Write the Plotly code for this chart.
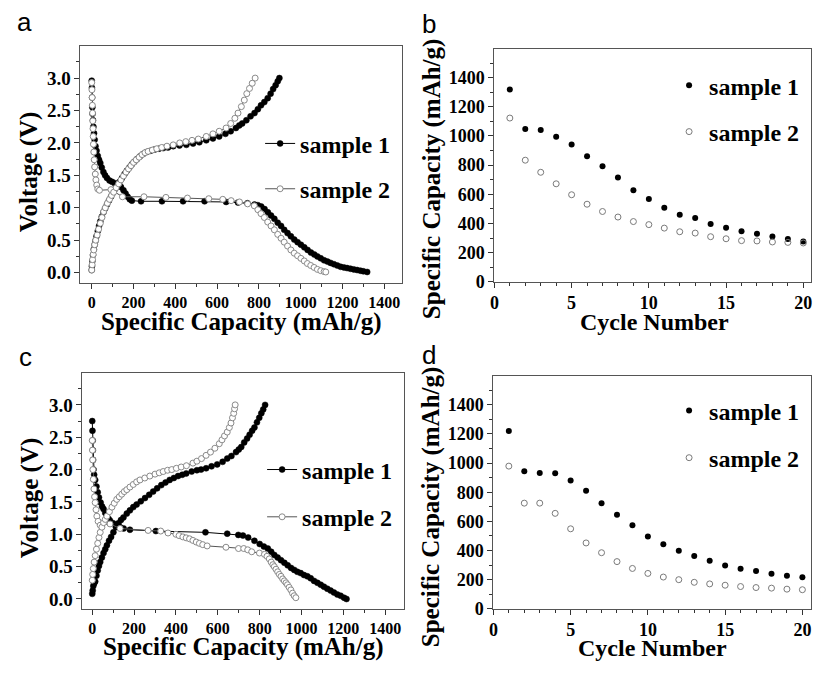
import plotly.graph_objects as go

# ---------------- data ----------------
# Panel a: voltage profiles (capacity mAh/g, voltage V)
a_s1_dis_x = [0, 1, 2, 3, 4, 6, 8, 11, 14, 18, 23, 29, 35, 41, 48, 56, 64, 73, 85, 97, 110, 125, 140, 152, 162, 172, 182, 192,
              236, 336, 437, 540, 643, 700, 745, 779, 795, 811, 827, 843, 858, 874, 890, 906, 921, 937, 953, 969, 985, 1001,
              1017, 1033, 1049, 1065, 1080, 1096, 1112, 1128, 1143, 1159, 1175, 1191, 1207, 1222, 1238, 1254, 1270, 1286, 1300, 1318]
a_s1_dis_y = [2.96, 2.85, 2.7, 2.55, 2.45, 2.35, 2.25, 2.15, 2.05, 1.95, 1.88, 1.80, 1.74, 1.69, 1.62, 1.55, 1.50, 1.46, 1.42, 1.40, 1.38, 1.35, 1.32, 1.27, 1.22, 1.17, 1.13, 1.11,
              1.10, 1.10, 1.10, 1.10, 1.09, 1.08, 1.07, 1.05, 1.04, 1.02, 0.98, 0.93, 0.88, 0.83, 0.77, 0.72, 0.66, 0.61, 0.56, 0.51, 0.47, 0.43,
              0.39, 0.35, 0.31, 0.28, 0.25, 0.22, 0.19, 0.17, 0.15, 0.13, 0.11, 0.09, 0.08, 0.07, 0.06, 0.05, 0.04, 0.03, 0.02, 0.01]
a_s1_chg_x = [0, 1, 3, 6, 10, 14, 18, 23, 29, 35, 41, 48, 56, 64, 73, 82, 92, 102, 112, 122, 133, 145, 157, 168, 180, 192, 204, 216,
              230, 246, 263, 282, 302, 322, 342, 365, 390, 420, 453, 485, 515, 548, 580, 610, 640, 665, 690, 706, 720, 740, 760,
              779, 795, 810, 826, 842, 856, 868, 880, 890, 898]
a_s1_chg_y = [0.04, 0.10, 0.18, 0.27, 0.36, 0.43, 0.49, 0.56, 0.64, 0.72, 0.79, 0.86, 0.93, 0.99, 1.05, 1.11, 1.17, 1.23, 1.29, 1.34, 1.40, 1.46, 1.52, 1.57, 1.62, 1.67, 1.71, 1.75,
              1.79, 1.83, 1.86, 1.88, 1.90, 1.91, 1.92, 1.93, 1.95, 1.96, 1.97, 1.99, 2.01, 2.04, 2.07, 2.10, 2.14, 2.18, 2.23, 2.27, 2.30, 2.35, 2.41,
              2.46, 2.52, 2.58, 2.63, 2.69, 2.76, 2.83, 2.89, 2.95, 3.0]
a_s2_dis_x = [0, 1, 2, 3, 4, 5, 6, 7, 8, 10, 12, 14, 17, 20, 24, 29, 37, 92, 147, 250, 355, 458, 560, 627, 667, 707, 746, 778,
              795, 810, 826, 842, 858, 874, 890, 906, 921, 937, 953, 969, 985, 1001, 1017, 1032, 1048, 1064, 1080, 1096, 1112, 1120]
a_s2_dis_y = [2.93, 2.82, 2.7, 2.58, 2.46, 2.34, 2.22, 2.1, 1.98, 1.86, 1.74, 1.63, 1.52, 1.43, 1.35, 1.29, 1.27, 1.28, 1.17, 1.17, 1.16, 1.15, 1.14, 1.13, 1.11, 1.09, 1.06, 1.03,
              0.97, 0.91, 0.85, 0.78, 0.72, 0.66, 0.59, 0.53, 0.47, 0.41, 0.35, 0.30, 0.26, 0.22, 0.18, 0.14, 0.11, 0.08, 0.05, 0.03, 0.015, 0.01]
a_s2_chg_x = [0, 2, 4, 7, 10, 14, 19, 26, 33, 41, 49, 57, 65, 75, 85, 95, 105, 117, 129, 140, 152, 164, 176, 188, 200, 213, 227, 241,
              255, 270, 290, 311, 335, 360, 390, 421, 450, 480, 510, 548, 580, 610, 643, 665, 685, 700, 716, 730, 742, 755, 768, 782]
a_s2_chg_y = [0.04, 0.12, 0.2, 0.28, 0.35, 0.43, 0.5, 0.58, 0.67, 0.76, 0.85, 0.94, 1.0, 1.07, 1.13, 1.19, 1.24, 1.31, 1.37, 1.43, 1.49, 1.55, 1.6, 1.65, 1.70, 1.74, 1.78, 1.82,
              1.85, 1.87, 1.89, 1.91, 1.93, 1.95, 1.97, 2.0, 2.02, 2.04, 2.06, 2.10, 2.14, 2.18, 2.23, 2.30, 2.38, 2.46, 2.56, 2.66, 2.76, 2.84, 2.92, 3.0]

# Panel c: voltage profiles
c_s1_dis_x = [0, 1, 2, 3, 4, 6, 9, 14, 20, 26, 32, 40, 47, 54, 62, 70, 78, 85, 100, 116, 133, 150, 180, 304, 541, 645, 698, 720,
              745, 775, 800, 820, 839, 855, 870, 886, 902, 918, 934, 950, 965, 980, 996, 1012, 1028, 1044, 1060, 1076, 1092,
              1107, 1123, 1139, 1155, 1171, 1187, 1203, 1215]
c_s1_dis_y = [2.75, 2.6, 2.45, 2.3, 2.15, 2.0, 1.92, 1.84, 1.74, 1.65, 1.57, 1.49, 1.43, 1.39, 1.33, 1.28, 1.24, 1.21, 1.17, 1.13, 1.11, 1.09, 1.07, 1.05, 1.03, 1.01, 0.99, 0.98,
              0.95, 0.90, 0.85, 0.81, 0.78, 0.73, 0.68, 0.64, 0.60, 0.56, 0.52, 0.48, 0.45, 0.42, 0.40, 0.37, 0.35, 0.32, 0.28, 0.25, 0.22,
              0.19, 0.16, 0.13, 0.10, 0.07, 0.05, 0.02, 0.0]
c_s1_chg_x = [0, 2, 5, 9, 14, 20, 26, 32, 38, 46, 54, 62, 70, 80, 90, 101, 113, 125, 137, 149, 165, 180, 196, 212, 232, 252, 272, 291,
              310, 330, 350, 370, 390, 410, 430, 449, 475, 500, 520, 544, 570, 597, 623, 645, 665, 687, 700, 712, 726, 740, 752,
              764, 775, 787, 798, 808, 817, 826]
c_s1_chg_y = [0.08, 0.13, 0.2, 0.24, 0.27, 0.36, 0.44, 0.51, 0.57, 0.64, 0.71, 0.77, 0.83, 0.9, 0.96, 1.03, 1.11, 1.17, 1.22, 1.26, 1.32, 1.37, 1.42, 1.46, 1.51, 1.56, 1.61, 1.66,
              1.71, 1.76, 1.80, 1.84, 1.87, 1.90, 1.92, 1.94, 1.97, 1.99, 2.0, 2.02, 2.05, 2.08, 2.12, 2.17, 2.21, 2.27, 2.31, 2.35, 2.42, 2.48, 2.54,
              2.6, 2.65, 2.73, 2.8, 2.87, 2.93, 3.0]
c_s2_dis_x = [0, 1, 2, 3, 5, 8, 11, 14, 18, 22, 28, 38, 85, 133, 267, 327, 362, 400, 415, 433, 449, 465, 481, 497, 512, 528, 549, 639,
              699, 724, 743, 762, 799, 823, 835, 846, 855, 863, 870, 878, 886, 894, 902, 910, 918, 926, 933, 941, 949, 957, 965, 973]
c_s2_dis_y = [2.45, 2.3, 2.15, 2.0, 1.85, 1.7, 1.58, 1.49, 1.38, 1.28, 1.2, 1.14, 1.16, 1.09, 1.06, 1.05, 1.02, 1.0, 0.98, 0.96, 0.945, 0.93, 0.905, 0.88, 0.86, 0.84, 0.82, 0.80,
              0.78, 0.78, 0.76, 0.73, 0.71, 0.69, 0.66, 0.62, 0.57, 0.53, 0.50, 0.46, 0.42, 0.38, 0.35, 0.31, 0.28, 0.25, 0.22, 0.18, 0.14, 0.09, 0.05, 0.02]
c_s2_chg_x = [0, 2, 5, 9, 14, 20, 26, 32, 38, 46, 54, 62, 70, 82, 94, 105, 117, 129, 141, 153, 165, 180, 196, 212, 228, 251, 275, 300,
              320, 339, 360, 380, 402, 425, 450, 481, 500, 522, 544, 565, 586, 607, 620, 632, 645, 655, 663, 670, 676, 680, 683]
c_s2_chg_y = [0.29, 0.38, 0.47, 0.57, 0.67, 0.77, 0.86, 0.95, 1.03, 1.11, 1.18, 1.23, 1.28, 1.35, 1.42, 1.48, 1.54, 1.58, 1.62, 1.66, 1.69, 1.73, 1.77, 1.81, 1.84, 1.87, 1.90, 1.93,
              1.95, 1.97, 1.99, 2.0, 2.02, 2.04, 2.06, 2.10, 2.13, 2.17, 2.22, 2.27, 2.33, 2.40, 2.46, 2.52, 2.58, 2.65, 2.72, 2.8, 2.87, 2.94, 3.0]

# Panels b, d: cycling (cycle number, capacity mAh/g)
cycles = list(range(1, 21))
b_s1 = [1319, 1048, 1041, 994, 942, 861, 793, 715, 627, 568, 507, 460, 437, 397, 370, 347, 329, 311, 293, 276]
b_s2 = [1123, 834, 751, 672, 597, 532, 482, 444, 413, 392, 368, 343, 334, 309, 295, 282, 280, 273, 270, 266]
d_s1 = [1220, 943, 932, 930, 880, 810, 725, 646, 574, 497, 443, 398, 362, 329, 297, 275, 259, 241, 227, 216]
d_s2 = [979, 725, 725, 655, 549, 452, 385, 324, 277, 243, 218, 200, 182, 171, 162, 153, 146, 142, 135, 131]

series_names = ["sample 1", "sample 2"]
panel_letters = ["a", "b", "c", "d"]
volt_title = "Voltage (V)"
cap_title = "Specific Capacity (mAh/g)"
cycle_title = "Cycle Number"

# ---------------- figure ----------------
W, H = 817, 674
SERIF = "Liberation Serif, Times New Roman, serif"

fig = go.Figure()

s1_marker = dict(symbol="circle", size=6, color="black", line=dict(color="black", width=0.5))
s2_marker = dict(symbol="circle", size=6, color="white", line=dict(color="#8a8a8a", width=1))
s1_line = dict(color="black", width=1)
s2_line = dict(color="#555555", width=1)


def curve(x, y, xa, ya, marker, line, name, legend, show):
    fig.add_trace(go.Scatter(x=x, y=y, mode="lines+markers", marker=marker, line=line,
                             name=name, legend=legend, showlegend=show, xaxis=xa, yaxis=ya,
                             hoverinfo="skip"))


# panel a (x, y)
curve(a_s1_dis_x, a_s1_dis_y, "x", "y", s1_marker, s1_line, series_names[0], "legend", True)
curve(a_s1_chg_x, a_s1_chg_y, "x", "y", s1_marker, s1_line, series_names[0], "legend", False)
curve(a_s2_dis_x, a_s2_dis_y, "x", "y", s2_marker, s2_line, series_names[1], "legend2", True)
curve(a_s2_chg_x, a_s2_chg_y, "x", "y", s2_marker, s2_line, series_names[1], "legend2", False)

# panel c (x3, y3)
curve(c_s1_dis_x, c_s1_dis_y, "x3", "y3", s1_marker, s1_line, series_names[0], "legend5", True)
curve(c_s1_chg_x, c_s1_chg_y, "x3", "y3", s1_marker, s1_line, series_names[0], "legend5", False)
curve(c_s2_dis_x, c_s2_dis_y, "x3", "y3", s2_marker, s2_line, series_names[1], "legend6", True)
curve(c_s2_chg_x, c_s2_chg_y, "x3", "y3", s2_marker, s2_line, series_names[1], "legend6", False)

# panels b, d
p1 = dict(symbol="circle", size=6, color="black")
p2 = dict(symbol="circle-open", size=6, color="#7a7a7a", line=dict(width=1))
fig.add_trace(go.Scatter(x=cycles, y=b_s1, mode="markers", marker=p1, name=series_names[0],
                         legend="legend3", xaxis="x2", yaxis="y2", hoverinfo="skip"))
fig.add_trace(go.Scatter(x=cycles, y=b_s2, mode="markers", marker=p2, name=series_names[1],
                         legend="legend4", xaxis="x2", yaxis="y2", hoverinfo="skip"))
fig.add_trace(go.Scatter(x=cycles, y=d_s1, mode="markers", marker=p1, name=series_names[0],
                         legend="legend7", xaxis="x4", yaxis="y4", hoverinfo="skip"))
fig.add_trace(go.Scatter(x=cycles, y=d_s2, mode="markers", marker=p2, name=series_names[1],
                         legend="legend8", xaxis="x4", yaxis="y4", hoverinfo="skip"))


def fx(xw):
    return xw / W


def fy(yw):
    return 1 - yw / H


def px_dom_x(l, r):
    return [fx(l), fx(r)]


def px_dom_y(t, b):
    return [fy(b), fy(t)]


def axis(domain, rng, dtick, minor_dtick, anchor, size, fmt=None):
    d = dict(domain=domain, range=rng, dtick=dtick, tick0=0, anchor=anchor,
             showline=True, mirror=True, linecolor="#555555", linewidth=1,
             ticks="outside", ticklen=5, tickwidth=1, tickcolor="#333333",
             minor=dict(dtick=minor_dtick, ticks="outside", ticklen=3, tickcolor="#333333", showgrid=False),
             showgrid=False, zeroline=False,
             tickfont=dict(family=SERIF, size=size, color="black", weight="bold"))
    if fmt:
        d["tickformat"] = fmt
    return d


fig.update_layout(
    width=W, height=H,
    margin=dict(l=0, r=0, t=0, b=0),
    paper_bgcolor="white", plot_bgcolor="white",
    xaxis=axis(px_dom_x(76, 400), [-54, 1485], 200, 100, "y", 16),
    yaxis=axis(px_dom_y(47, 287), [-0.156, 3.49], 0.5, 0.25, "x", 19, ".1f"),
    xaxis2=axis(px_dom_x(493, 812), [0, 20.5], 5, 1, "y2", 18),
    yaxis2=axis(px_dom_y(50, 286), [0, 1595], 200, 100, "x2", 18),
    xaxis3=axis(px_dom_x(78, 402), [-47, 1490], 200, 100, "y3", 16),
    yaxis3=axis(px_dom_y(379, 618), [-0.152, 3.487], 0.5, 0.25, "x3", 19, ".1f"),
    xaxis4=axis(px_dom_x(492, 812), [0, 20.56], 5, 1, "y4", 18),
    yaxis4=axis(px_dom_y(382, 618), [0, 1595], 200, 100, "x4", 18),
)

leg_font = dict(family=SERIF, size=24, color="black", weight="bold")


def leg(xw, yw):
    return dict(x=fx(xw), y=fy(yw), xanchor="left", yanchor="middle",
                bgcolor="rgba(0,0,0,0)", borderwidth=0, font=leg_font, itemwidth=30)


fig.update_layout(
    legend=leg(257, 146), legend2=leg(257, 192),
    legend3=leg(669, 87), legend4=leg(669, 134),
    legend5=leg(259, 477), legend6=leg(259, 525),
    legend7=leg(669, 417), legend8=leg(669, 465),
)

anns = []
# panel letters
for letter, (xw, yw) in zip(panel_letters, [(20, 22), (427, 24), (21, 362), (427, 360)]):
    anns.append(dict(text=letter, x=fx(xw), y=fy(yw), xref="paper", yref="paper",
                     xanchor="center", yanchor="middle", showarrow=False,
                     font=dict(family="Liberation Sans, Arial, sans-serif", size=26, color="black")))

for txt, xw, yw, ang, fs in [
    (cap_title, 238, 327, 0, 25), (cycle_title, 654, 327, 0, 24),
    (cap_title, 240, 657, 0, 25), (cycle_title, 652, 658, 0, 24),
    (volt_title, 25, 174, -90, 25), (volt_title, 25, 505, -90, 25),
    (cap_title, 430, 181, -90, 25), (cap_title, 430, 514, -90, 25),
]:
    anns.append(dict(text=txt, x=fx(xw), y=fy(yw), xref="paper", yref="paper",
                     xanchor="center", yanchor="middle", showarrow=False, textangle=ang,
                     font=dict(family=SERIF, size=fs, color="black", weight="bold")))

fig.update_layout(annotations=anns)

# remove the browser's default 8px page margin so the 817x674 figure fills the window exactly;
# hide the interactive toolbar (static picture)
fig.write_html("out.html", config={"displayModeBar": False},
               post_script="document.body.style.margin='0px';")
